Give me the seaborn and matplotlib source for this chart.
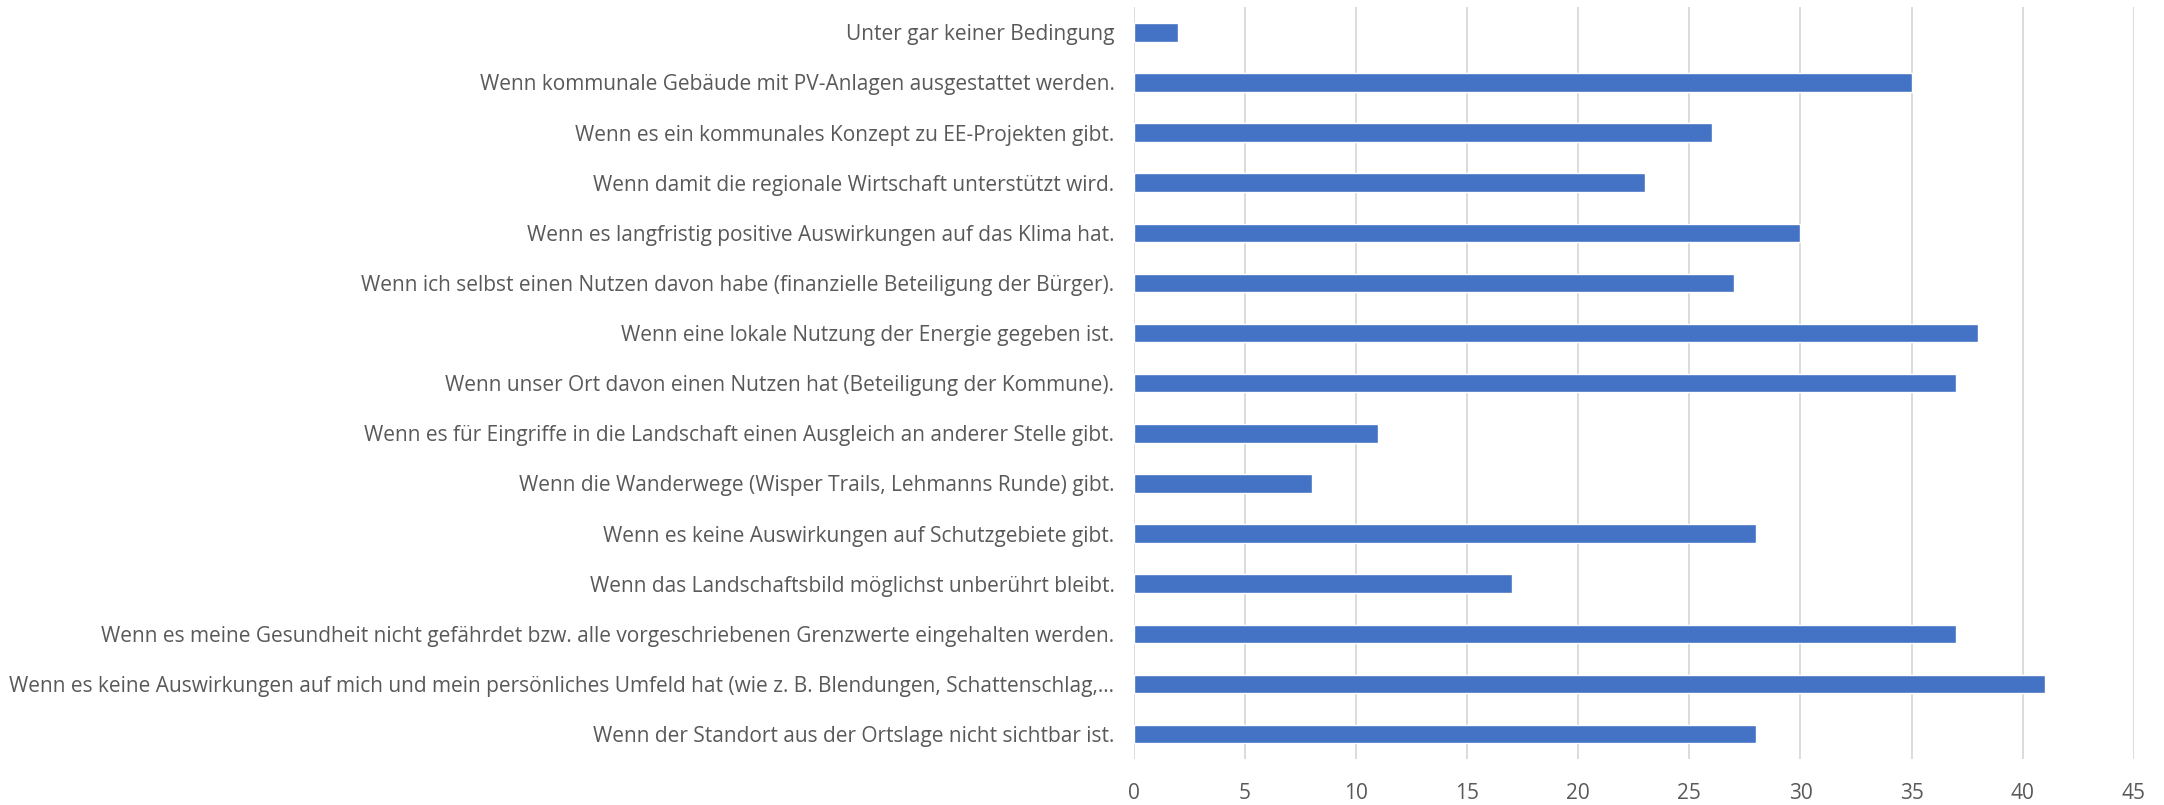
import matplotlib
matplotlib.use("Agg")
import matplotlib.pyplot as plt
import seaborn as sns
import pandas as pd

categories = [
    "Unter gar keiner Bedingung",
    "Wenn kommunale Gebäude mit PV-Anlagen ausgestattet werden.",
    "Wenn es ein kommunales Konzept zu EE-Projekten gibt.",
    "Wenn damit die regionale Wirtschaft unterstützt wird.",
    "Wenn es langfristig positive Auswirkungen auf das Klima hat.",
    "Wenn ich selbst einen Nutzen davon habe (finanzielle Beteiligung der Bürger).",
    "Wenn eine lokale Nutzung der Energie gegeben ist.",
    "Wenn unser Ort davon einen Nutzen hat (Beteiligung der Kommune).",
    "Wenn es für Eingriffe in die Landschaft einen Ausgleich an anderer Stelle gibt.",
    "Wenn die Wanderwege (Wisper Trails, Lehmanns Runde) gibt.",
    "Wenn es keine Auswirkungen auf Schutzgebiete gibt.",
    "Wenn das Landschaftsbild möglichst unberührt bleibt.",
    "Wenn es meine Gesundheit nicht gefährdet bzw. alle vorgeschriebenen Grenzwerte eingehalten werden.",
    "Wenn es keine Auswirkungen auf mich und mein persönliches Umfeld hat (wie z. B. Blendungen, Schattenschlag,…",
    "Wenn der Standort aus der Ortslage nicht sichtbar ist.",
]
values = [2, 35, 26, 23, 30, 27, 38, 37, 11, 8, 28, 17, 37, 41, 28]
x_ticks = [0, 5, 10, 15, 20, 25, 30, 35, 40, 45]

df = pd.DataFrame({"label": categories, "count": values})

sns.set_style("white")
plt.rcParams["font.family"] = ["Open Sans", "DejaVu Sans"]

fig = plt.figure(figsize=(21.64, 8.05), dpi=100)
ax = fig.add_axes([0.524, 0.057, 0.462, 0.934])

sns.barplot(data=df, x="count", y="label", color="#4472C4", saturation=1,
            width=0.37, ax=ax, zorder=3)

ax.set_xlim(0, 45)
ax.set_xticks(x_ticks)
ax.grid(axis="x", color="#D9D9D9", linewidth=1.3, zorder=0)
ax.set_axisbelow(True)
for s in ax.spines.values():
    s.set_visible(False)
ax.set_xlabel("")
ax.set_ylabel("")
ax.tick_params(axis="both", length=0, labelsize=15, colors="#595959")
ax.tick_params(axis="x", pad=17)
ax.tick_params(axis="y", pad=14)

fig.savefig("out.png", dpi=100)
